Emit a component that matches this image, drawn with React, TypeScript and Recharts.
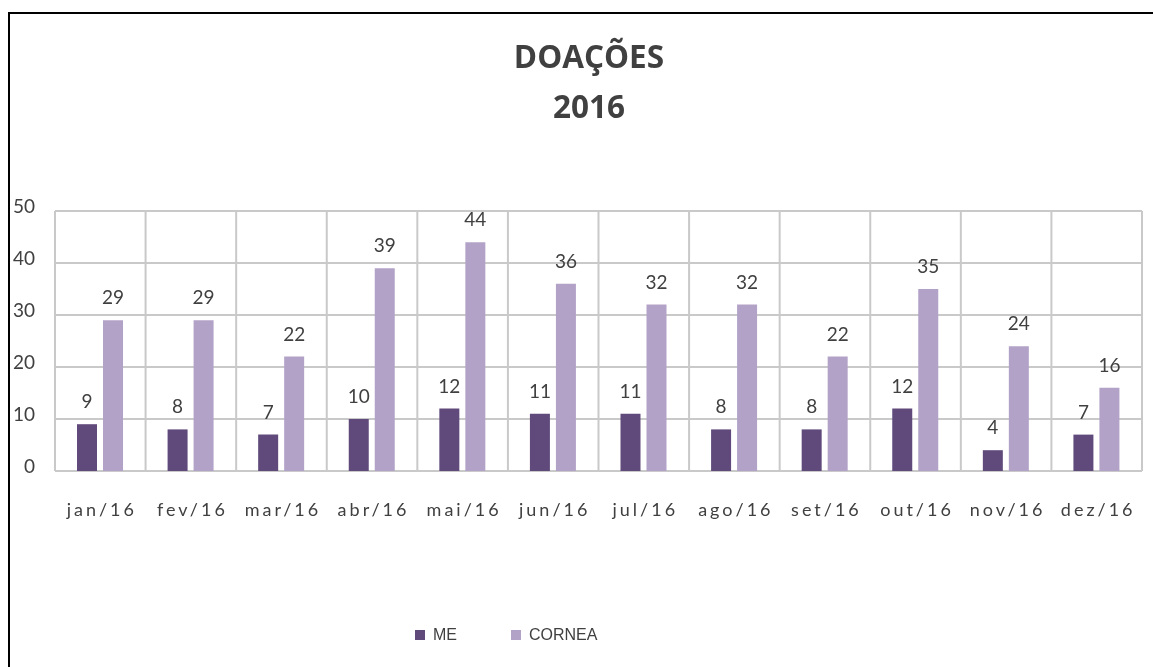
import React from "react";
import { BarChart, Bar, XAxis, YAxis, CartesianGrid, LabelList, Legend } from "recharts";

const months = ["jan/16", "fev/16", "mar/16", "abr/16", "mai/16", "jun/16", "jul/16", "ago/16", "set/16", "out/16", "nov/16", "dez/16"];
const meValues = [9, 8, 7, 10, 12, 11, 11, 8, 8, 12, 4, 7];
const corneaValues = [29, 29, 22, 39, 44, 36, 32, 32, 22, 35, 24, 16];
const yTicks = [0, 10, 20, 30, 40, 50];
const seriesNames = ["ME", "CORNEA"];
const seriesColors = ["#604A7B", "#B3A2C7"];
const titleLines = ["DOAÇÕES", "2016"];

const data = months.map((m, i) => ({ month: m, ME: meValues[i], CORNEA: corneaValues[i] }));

const TEXT = "#404040";
const FONT = "Lato, 'Open Sans', sans-serif";

const XTick = (props: any) => {
  const { x, y, payload } = props;
  return (
    <text x={x} y={y} dy="0.71em" dx={1.5} textAnchor="middle" fill={TEXT} fontSize={18} fontFamily={FONT} letterSpacing={3}>
      {payload.value}
    </text>
  );
};

const YTick = (props: any) => {
  const { x, y, payload } = props;
  return (
    <text x={x} y={y} dy="0.355em" textAnchor="end" fill={TEXT} fontSize={19} fontFamily={FONT}>
      <tspan dy={2}>{payload.value}</tspan>
    </text>
  );
};

const LegendContent = () => (
  <div style={{ height: 24, display: "flex", alignItems: "center", paddingLeft: 407, fontFamily: "'Liberation Sans', Arial, sans-serif", fontSize: 16, color: TEXT }}>
    {seriesNames.map((n, i) => (
      <div key={n} style={{ display: "flex", alignItems: "center", width: i === 0 ? 96 : "auto" }}>
        <span style={{ display: "inline-block", width: 10, height: 10, background: seriesColors[i], marginRight: 8 }} />
        <span>{n}</span>
      </div>
    ))}
  </div>
);

// vertical grid lines sit on the category band boundaries
const bandBoundaries = ({ offset }: any) =>
  Array.from({ length: months.length + 1 }, (_, i) => offset.left + (offset.width * i) / months.length);

export default function App() {
  return (
    <div style={{ position: "fixed", left: 8, top: 12, width: 1145, height: 655, overflow: "hidden" }}>
      <div style={{ position: "absolute", left: 0, top: 0, right: 0, bottom: 0, borderTop: "2px solid #000", borderLeft: "2px solid #000", pointerEvents: "none" }} />
      <div style={{ position: "absolute", left: 431, width: 300, top: 19, textAlign: "center", fontFamily: "'Open Sans', sans-serif", fontWeight: 700, fontSize: 31.5, lineHeight: "50px", color: TEXT }}>
        {titleLines.map((t) => (
          <div key={t}>{t}</div>
        ))}
      </div>
      <BarChart width={1145} height={655} data={data} margin={{ top: 199, right: 11, left: 0, bottom: 20 }} barSize={20} barGap={6}>
        <CartesianGrid stroke="#C9C9C9" strokeWidth={2} verticalCoordinatesGenerator={bandBoundaries} />
        <XAxis dataKey="month" axisLine={false} tickLine={false} tickSize={0} tickMargin={32} height={152} tick={<XTick />} interval={0} />
        <YAxis domain={[0, 50]} ticks={yTicks} width={47} axisLine={false} tickLine={false} tickSize={0} tickMargin={20} tick={<YTick />} />
        <Legend verticalAlign="bottom" content={<LegendContent />} />
        {seriesNames.map((n, i) => (
          <Bar key={n} dataKey={n} fill={seriesColors[i]} isAnimationActive={false}>
            <LabelList dataKey={n} position="top" offset={16} fill={TEXT} fontSize={19} fontFamily={FONT} />
          </Bar>
        ))}
      </BarChart>
    </div>
  );
}
